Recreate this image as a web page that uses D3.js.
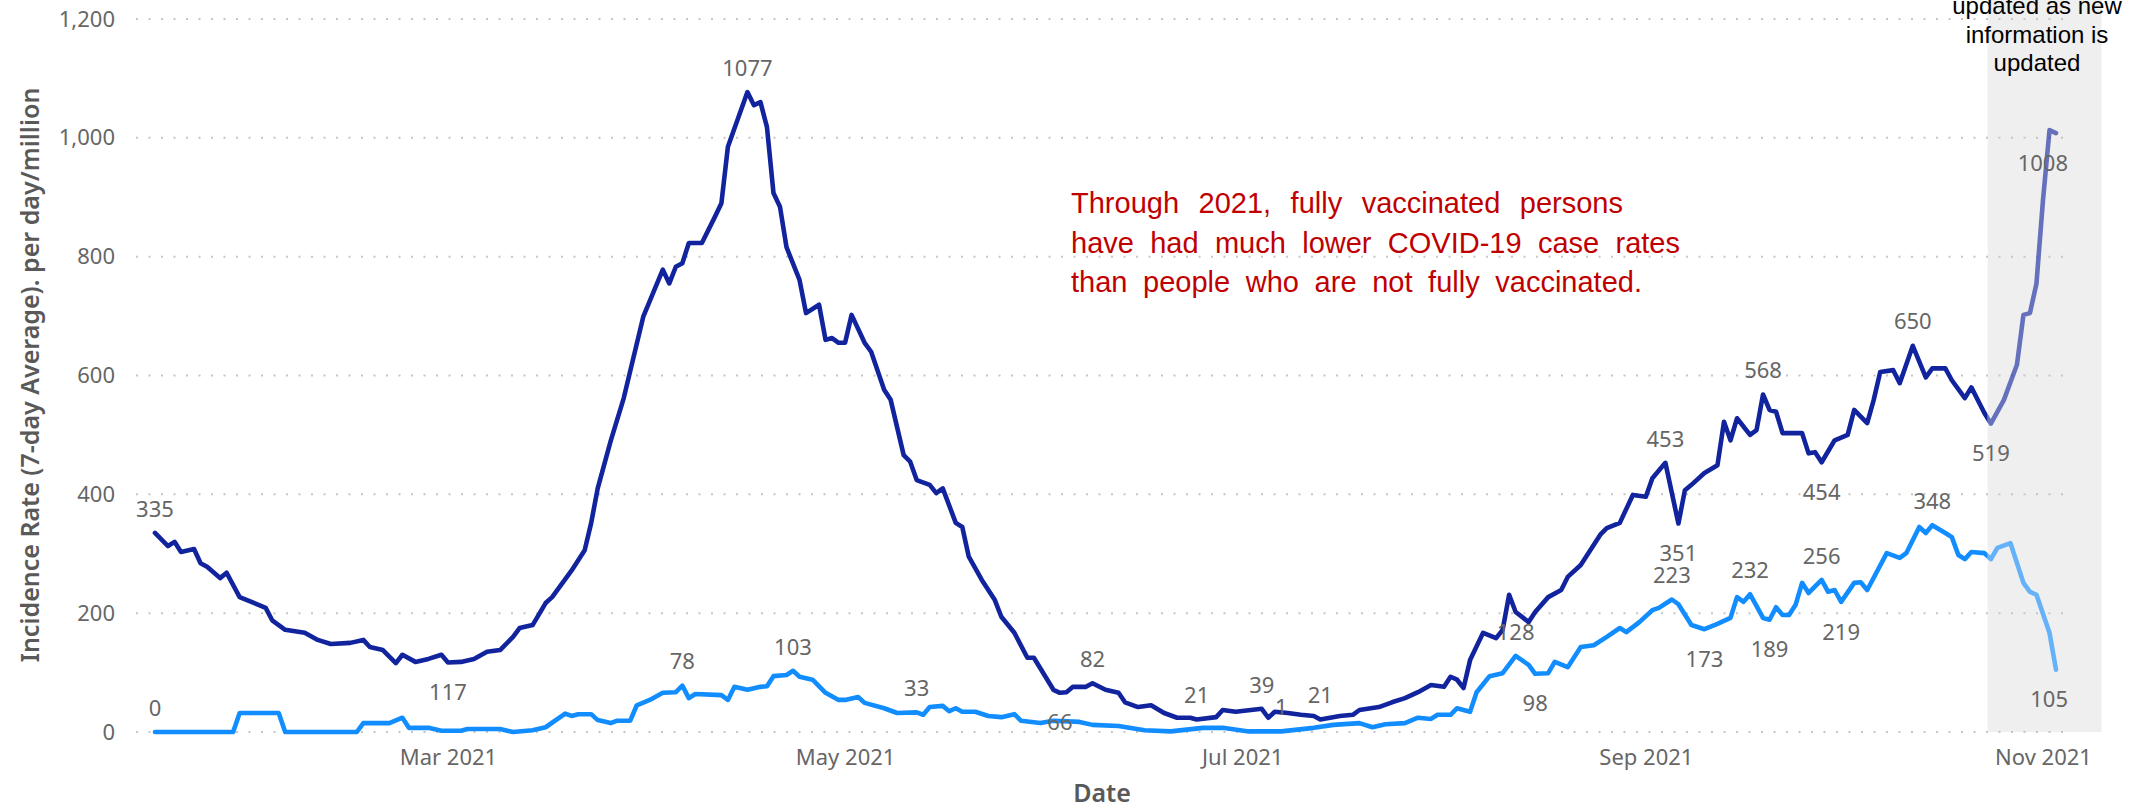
<!DOCTYPE html>
<html>
<head>
<meta charset="utf-8">
<script src="https://cdn.jsdelivr.net/npm/d3@7"></script>
<style>
  body { margin: 0; background: #fff; }
  svg { display: block; font-family: "Segoe UI", "Noto Sans", sans-serif; }
</style>
</head>
<body>
<svg width="2144" height="809"></svg>
<script>
// Incidence rate (7-day average) per day per million, 2021

// not fully vaccinated
var notFullyDates = ["01-15","01-17","01-18","01-19","01-21","01-22","01-23","01-25","01-26","01-28",
  "02-01","02-02","02-04","02-07","02-09","02-11","02-14","02-16","02-17","02-19","02-21","02-22","02-24","02-26","02-28",
  "03-01","03-03","03-05","03-07","03-09","03-11","03-12","03-14","03-16","03-17","03-20","03-22","03-23","03-24","03-26","03-28","03-31",
  "04-03","04-04","04-05","04-06","04-07","04-09","04-11","04-12","04-13","04-16","04-17","04-18","04-19","04-20","04-21","04-22","04-24","04-25","04-27","04-28","04-29","04-30",
  "05-01","05-02","05-04","05-05","05-07","05-08","05-10","05-11","05-12","05-14","05-15","05-16","05-18","05-19","05-20","05-22","05-24","05-25","05-27","05-29","05-30",
  "06-02","06-03","06-04","06-05","06-07","06-08","06-10","06-12","06-13","06-15","06-17","06-19","06-21","06-23","06-24","06-27","06-28","06-30",
  "07-04","07-05","07-06","07-08","07-10","07-12","07-13","07-16","07-18","07-19","07-22","07-24","07-26","07-28","07-30",
  "08-01","08-02","08-03","08-04","08-05","08-07","08-09","08-10","08-11","08-12","08-14","08-15","08-17","08-19","08-20","08-22","08-25","08-26","08-28","08-30",
  "09-01","09-02","09-04","09-06","09-07","09-08","09-10","09-12","09-13","09-14","09-15","09-17","09-18","09-19","09-20","09-21","09-22","09-25","09-26","09-27","09-28","09-30",
  "10-02","10-03","10-05","10-06","10-07","10-09","10-10","10-12","10-14","10-15","10-17","10-18","10-20","10-21","10-23","10-24","10-26","10-28","10-29","10-30","10-31",
  "11-01","11-02","11-03"];
var notFullyRates = [335,313,320,303,308,284,278,259,268,227,
  209,188,172,167,155,148,150,155,143,138,116,130,118,123,130,
  117,118,123,135,138,160,175,180,217,227,272,306,352,410,490,562,699,
  778,755,783,789,823,823,867,890,985,1077,1055,1060,1018,907,884,816,761,705,719,660,663,655,
  655,702,655,640,576,559,466,455,424,416,402,410,352,345,295,256,222,194,167,125,125,
  71,66,67,76,76,82,71,66,50,42,45,32,24,24,21,25,37,34,
  39,24,34,32,29,27,21,27,29,37,42,50,57,67,79,
  76,93,88,74,121,167,158,172,231,202,185,202,227,239,261,281,332,343,352,399,
  396,427,453,351,407,416,436,449,522,491,528,500,508,568,542,539,503,503,469,471,454,491,
  500,542,520,559,606,609,587,650,597,612,612,592,562,580,537,519,559,618,702,705,755,
  895,1013,1008];

// fully vaccinated
var fullyDates = ["01-15","01-27","01-28","02-03","02-04","02-15","02-16","02-20","02-22","02-23","02-26","02-28",
  "03-03","03-04","03-09","03-11","03-14","03-16","03-19","03-20","03-21","03-23","03-24","03-26","03-27","03-29","03-30",
  "04-01","04-03","04-05","04-06","04-07","04-08","04-12","04-13","04-14","04-16","04-18","04-19","04-20","04-22","04-23","04-24","04-26","04-28","04-30",
  "05-01","05-03","05-04","05-07","05-09","05-12","05-13","05-14","05-16","05-17","05-18","05-19","05-21","05-23","05-25","05-27","05-28","05-31",
  "06-02","06-06","06-08","06-12","06-16","06-20","06-25","06-28",
  "07-02","07-07","07-12","07-15","07-19","07-21","07-23","07-26","07-28","07-30","07-31",
  "08-02","08-03","08-05","08-06","08-08","08-10","08-12","08-14","08-15","08-17","08-18","08-20","08-22","08-24","08-26","08-28","08-29","08-31",
  "09-02","09-03","09-05","09-06","09-08","09-10","09-12","09-14","09-15","09-16","09-17","09-19","09-20","09-21","09-22","09-23","09-24","09-25","09-26","09-28","09-29","09-30",
  "10-01","10-03","10-04","10-05","10-08","10-10","10-11","10-13","10-14","10-15","10-17","10-18","10-19","10-20","10-21","10-23","10-24","10-25","10-27","10-29","10-30","10-31",
  "11-02","11-03"];
var fullyRates = [0,0,32,32,0,0,15,15,24,7,7,2,
  2,5,5,0,3,8,31,27,30,30,20,15,19,19,45,
  54,66,67,78,57,64,62,54,76,71,76,77,94,96,103,93,88,66,54,
  54,59,49,40,32,33,29,42,44,35,40,34,34,27,25,30,19,15,
  19,17,12,10,3,1,7,7,
  1,1,7,12,15,8,13,15,24,22,29,
  29,40,34,67,94,99,128,113,98,99,118,109,143,146,160,175,168,185,
  205,209,223,215,180,173,182,192,227,219,232,192,189,210,197,197,214,251,234,256,236,239,
  219,251,252,239,301,293,301,345,335,348,335,328,298,291,303,301,291,310,318,251,236,231,
  167,105];

// points that carry a value label
var notFullyLabelDates = ["01-15","03-01","04-16","06-03","06-08","06-24","07-04","07-13","09-04","09-06","09-19","09-28","10-12","10-24","11-03"];
var fullyLabelDates = ["01-15","04-06","04-23","05-12","07-07","08-12","08-15","09-05","09-10","09-17","09-20","09-28","10-01","10-15","11-03"];

var yTicks = [0, 200, 400, 600, 800, 1000, 1200];
var monthTicks = ["03-01", "05-01", "07-01", "09-01", "11-01"];
var shadeFrom = "10-23", shadeTo = "11-10";   // data still being updated

var note = ["Through 2021, fully vaccinated persons",
            "have had much lower COVID-19 case rates",
            "than people who are not fully vaccinated."];
var shadeNote = ["updated as new", "information is", "updated"];

var parse = s => d3.timeParse("%Y-%m-%d")("2021-" + s);

var svg = d3.select("svg");
var plotLeft = 136, plotRight = 2068, plotTop = 19, plotBottom = 732;

var x = d3.scaleTime()
    .domain([parse("01-15"), parse("11-03")])
    .range([155, 2056]);
var y = d3.scaleLinear()
    .domain([0, 1200])
    .range([plotBottom, plotTop]);

var notFully = notFullyDates.map((d, i) => ({date: parse(d), key: d, v: notFullyRates[i]}));
var fully = fullyDates.map((d, i) => ({date: parse(d), key: d, v: fullyRates[i]}));

// shaded area
var sx0 = x(d3.timeHour.offset(parse(shadeFrom), 12)), sx1 = x(parse(shadeTo));
svg.append("rect")
    .attr("x", sx0).attr("y", 0)
    .attr("width", sx1 - sx0).attr("height", plotBottom)
    .attr("fill", "#efefef");

// dotted gridlines
svg.append("g").selectAll("line")
    .data(yTicks)
    .join("line")
    .attr("x1", plotLeft).attr("x2", plotRight)
    .attr("y1", d => y(d)).attr("y2", d => y(d))
    .attr("stroke", "#c6c6c6")
    .attr("stroke-width", 2)
    .attr("stroke-dasharray", "2,10.5");

// y axis
var yAxis = svg.append("g")
    .attr("transform", "translate(" + plotLeft + ",0)")
    .call(d3.axisLeft(y).tickValues(yTicks).tickFormat(d3.format(",")).tickSize(0).tickPadding(21));
yAxis.select(".domain").remove();
yAxis.selectAll("text")
    .attr("font-family", "'Segoe UI','Noto Sans',sans-serif")
    .attr("font-size", 22)
    .attr("fill", "#666");

// x axis
var xAxis = svg.append("g")
    .attr("transform", "translate(0," + plotBottom + ")")
    .call(d3.axisBottom(x).tickValues(monthTicks.map(parse)).tickFormat(d3.timeFormat("%b %Y")).tickSize(0).tickPadding(17));
xAxis.select(".domain").remove();
xAxis.selectAll("text")
    .attr("font-family", "'Segoe UI','Noto Sans',sans-serif")
    .attr("font-size", 22)
    .attr("fill", "#666");

// axis titles
svg.append("text")
    .attr("transform", "translate(39,375) rotate(-90)")
    .attr("text-anchor", "middle")
    .attr("font-size", 25)
    .attr("font-weight", 600)
    .attr("fill", "#595959")
    .text("Incidence Rate (7-day Average). per day/million");
svg.append("text")
    .attr("x", (plotLeft + plotRight) / 2).attr("y", 802)
    .attr("text-anchor", "middle")
    .attr("font-size", 25)
    .attr("font-weight", 600)
    .attr("fill", "#595959")
    .text("Date");

// lines, faded inside the shaded area
var defs = svg.append("defs");
defs.append("clipPath").attr("id", "pre")
    .append("rect").attr("x", 0).attr("y", 0).attr("width", sx0).attr("height", 809);
defs.append("clipPath").attr("id", "post")
    .append("rect").attr("x", sx0).attr("y", 0).attr("width", 2144 - sx0).attr("height", 809);

var line = d3.line().x(d => x(d.date)).y(d => y(d.v));
var series = [
  {data: notFully, color: "#12239E"},
  {data: fully, color: "#118DFF"}
];
["pre", "post"].forEach(function (c) {
  svg.append("g")
      .attr("clip-path", "url(#" + c + ")")
      .attr("opacity", c == "pre" ? 1 : 0.62)
      .selectAll("path")
      .data(series)
      .join("path")
      .attr("d", s => line(s.data))
      .attr("fill", "none")
      .attr("stroke", s => s.color)
      .attr("stroke-width", 4.6)
      .attr("stroke-linejoin", "round")
      .attr("stroke-linecap", "round");
});

// value labels
var below = {
  notFully: ["03-01", "06-03", "09-06", "09-28", "10-24", "11-03"],
  fully: ["08-15", "09-10", "09-20", "10-01", "11-03"]
};
function labels(data, keys, name) {
  var pts = data.filter(d => keys.includes(d.key));
  svg.append("g").selectAll("text")
      .data(pts)
      .join("text")
      .attr("x", d => x(d.date))
      .attr("y", d => y(d.v) + (below[name].includes(d.key) ? 30 : -24))
      .attr("dy", "0.35em")
      .attr("text-anchor", "middle")
      .attr("font-size", 22)
      .attr("fill", "#666")
      .text(d => d.v)
      .each(function () {
        var w = this.getComputedTextLength();
        var cx = +this.getAttribute("x");
        if (cx + w / 2 > plotRight) this.setAttribute("x", plotRight - w / 2);
      });
}
labels(notFully, notFullyLabelDates, "notFully");
labels(fully, fullyLabelDates, "fully");

// red note, spread so each line ends where the original does
var noteEnds = [1623, 1680, 1642];
svg.append("g").selectAll("text")
    .data(note)
    .join("text")
    .attr("x", 1071)
    .attr("y", (d, i) => 213 + i * 39.5)
    .attr("font-family", "'Liberation Sans', Arial, sans-serif")
    .attr("font-size", 29)
    .attr("fill", "#C00000")
    .text(d => d)
    .each(function (d, i) {
      var gaps = d.split(" ").length - 1;
      var extra = noteEnds[i] - 1071 - this.getComputedTextLength();
      this.setAttribute("word-spacing", Math.max(0, extra / gaps));
    });

// note over the shaded area
svg.append("g").selectAll("text")
    .data(shadeNote)
    .join("text")
    .attr("x", 2037)
    .attr("y", (d, i) => 14 + i * 28.5)
    .attr("text-anchor", "middle")
    .attr("font-family", "'Liberation Sans', Arial, sans-serif")
    .attr("font-size", 24)
    .attr("fill", "#000")
    .text(d => d);
</script>
</body>
</html>
